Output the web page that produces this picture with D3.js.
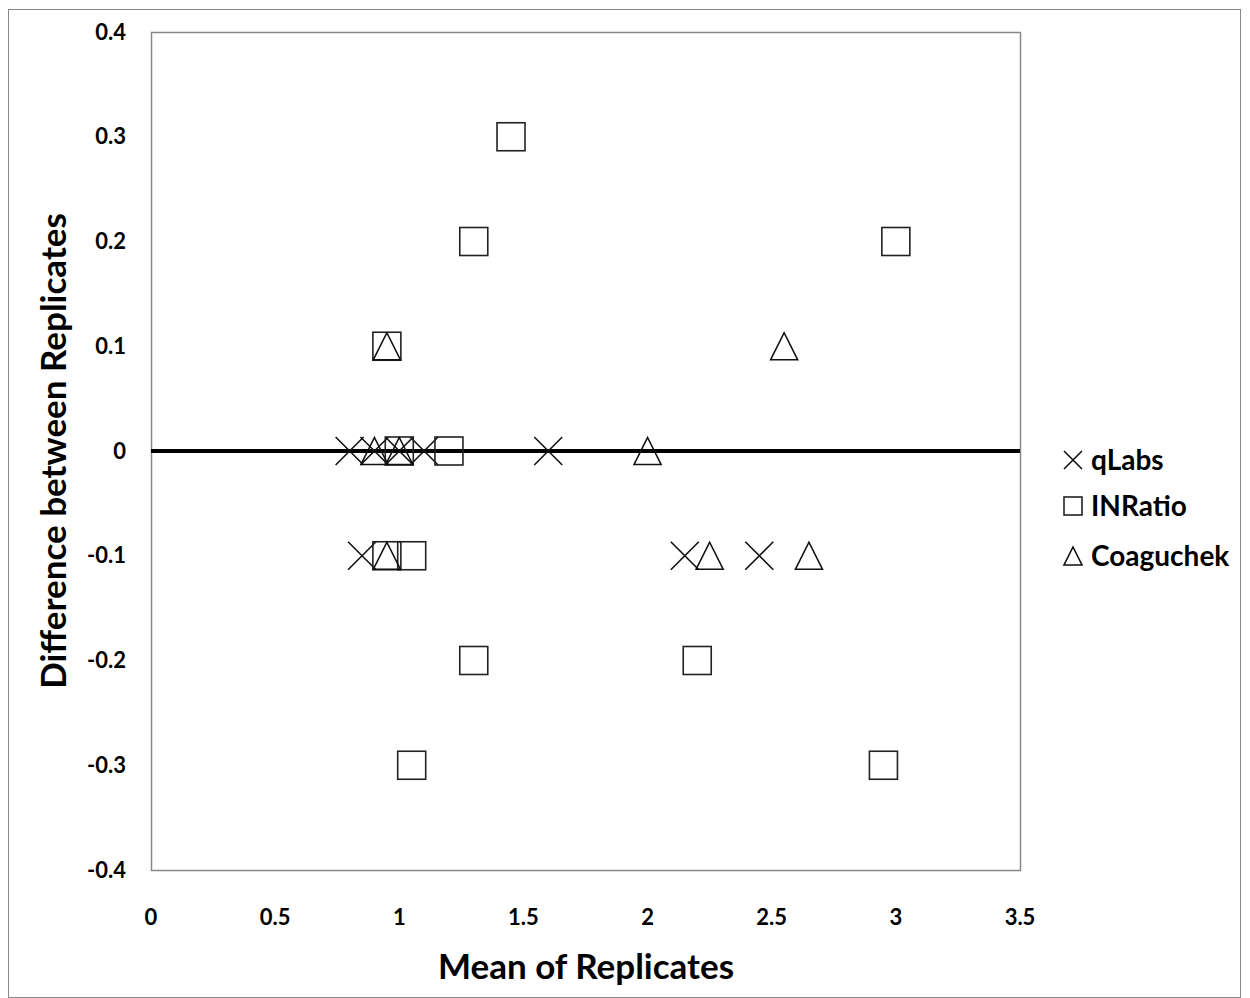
<!DOCTYPE html>
<html><head><meta charset="utf-8">
<script src="https://cdn.jsdelivr.net/npm/d3@7"></script>
<style>body{margin:0;background:#fff}svg{display:block}text{font-family:Lato,"Liberation Sans",sans-serif;font-weight:bold}</style>
</head><body>
<script>
const qLabsX = [0.8, 0.9, 1.0, 1.1, 1.6, 0.85, 2.15, 2.45];
const qLabsY = [0, 0, 0, 0, 0, -0.1, -0.1, -0.1];
const inratioX = [1.45, 1.3, 3.0, 0.95, 1.0, 1.2, 0.95, 1.05, 1.3, 2.2, 1.05, 2.95];
const inratioY = [0.3, 0.2, 0.2, 0.1, 0, 0, -0.1, -0.1, -0.2, -0.2, -0.3, -0.3];
const coagX = [0.95, 2.55, 0.9, 1.0, 2.0, 0.95, 2.25, 2.65];
const coagY = [0.1, 0.1, 0, 0, 0, -0.1, -0.1, -0.1];
const xTicks = ["0", "0.5", "1", "1.5", "2", "2.5", "3", "3.5"];
const yTicks = ["-0.4", "-0.3", "-0.2", "-0.1", "0", "0.1", "0.2", "0.3", "0.4"];
const seriesNames = ["qLabs", "INRatio", "Coaguchek"];

const W = 1250, H = 998;
const m = {l:151, t:32, r:1020, b:870};
const svg = d3.select("body").append("svg").attr("width", W).attr("height", H);
svg.append("rect").attr("x",8.5).attr("y",9.5).attr("width",1232).attr("height",988).attr("fill","#fff").attr("stroke","#888").attr("stroke-width",1);

const x = d3.scaleLinear().domain([0,3.5]).range([m.l, m.r]);
const y = d3.scaleLinear().domain([-0.4,0.4]).range([m.b, m.t]);

svg.append("rect").attr("x",m.l+0.5).attr("y",m.t+0.5).attr("width",m.r-m.l).attr("height",m.b-m.t)
  .attr("fill","none").attr("stroke","#888").attr("stroke-width",1.5);

svg.append("line").attr("x1",m.l).attr("x2",m.r).attr("y1",y(0)).attr("y2",y(0)).attr("stroke","#000").attr("stroke-width",4);

svg.append("g").selectAll("text").data(yTicks).join("text")
  .attr("x",126).attr("y",d=>y(+d)).attr("dy","0.35em").attr("text-anchor","end")
  .attr("font-size",22).text(d=>d);
svg.append("g").selectAll("text").data(xTicks).join("text")
  .attr("x",d=>x(+d)).attr("y",925).attr("text-anchor","middle")
  .attr("font-size",22).text(d=>d);

svg.append("text").attr("x",586).attr("y",979).attr("text-anchor","middle").attr("font-size",35).text("Mean of Replicates");
svg.append("text").attr("transform",`translate(66,${y(0)}) rotate(-90)`).attr("text-anchor","middle").attr("font-size",35).text("Difference between Replicates");

const S = 14;
function drawX(g, cx, cy, s){
  g.append("path").attr("d",`M${cx-s},${cy-s}L${cx+s},${cy+s}M${cx-s},${cy+s}L${cx+s},${cy-s}`)
   .attr("stroke","#111").attr("stroke-width",1.6).attr("fill","none");
}
function drawSq(g, cx, cy, s){
  g.append("rect").attr("x",cx-s).attr("y",cy-s).attr("width",2*s).attr("height",2*s)
   .attr("stroke","#222").attr("stroke-width",1.6).attr("fill","none");
}
function drawTri(g, cx, cy, s){
  g.append("path").attr("d",`M${cx},${cy-s}L${cx+s},${cy+s}L${cx-s},${cy+s}Z`)
   .attr("stroke","#111").attr("stroke-width",1.6).attr("fill","none");
}
const gp = svg.append("g");
qLabsX.forEach((v,i)=>drawX(gp, x(v), y(qLabsY[i]), S));
inratioX.forEach((v,i)=>drawSq(gp, x(v), y(inratioY[i]), S));
coagX.forEach((v,i)=>drawTri(gp, x(v), y(coagY[i]), S-0.5));

const lg = svg.append("g");
const ly = [460, 506, 556];
const drawers = [drawX, drawSq, drawTri];
seriesNames.forEach((n,i)=>{
  drawers[i](lg, 1073, ly[i], 9);
  lg.append("text").attr("x",1091).attr("y",ly[i]).attr("dy","0.35em").attr("font-size",28).text(n);
});
</script>
</body></html>
